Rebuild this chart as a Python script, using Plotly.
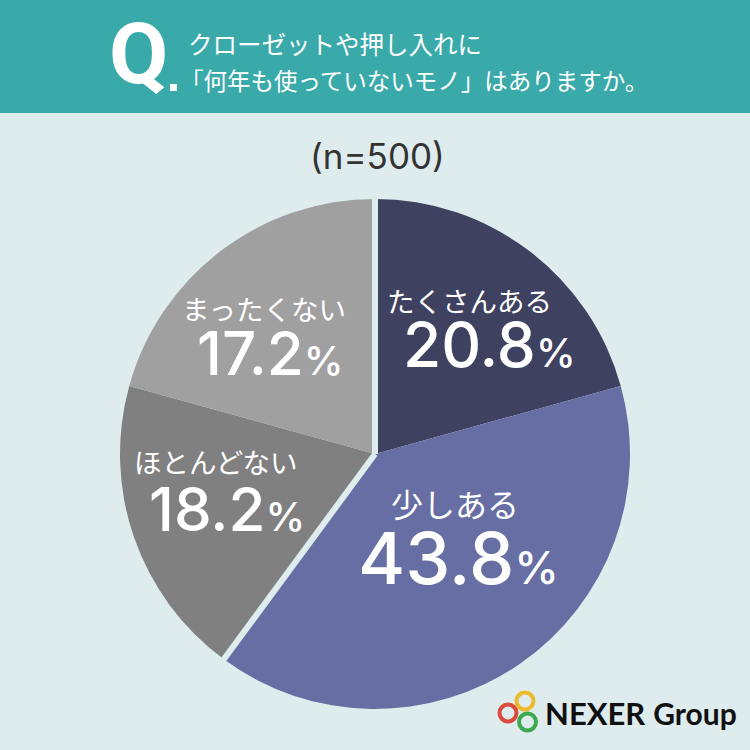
import math
import plotly.graph_objects as go

categories = ['たくさんある', '少しある', 'ほとんどない', 'まったくない']
# printed percentages
labels_pct = [20.8, 43.8, 18.2, 17.2]
# the wedges in the picture are not drawn to the printed numbers, these are read off the wedge edges
drawn_pct = [20.7, 39.4, 19.2, 20.7]
colors = ['#3F4161', '#666EA3', '#808080', '#A0A0A0']
question = ['クローゼットや押し入れに', '「何年も使っていないモノ」はありますか。']
sample = '(n=500)'
logo_text = '<b>NEXER</b> <b style="font-size:30px">Group</b>'

W = 750
H = 750
BG = '#DEECEE'
TEAL = '#3AA9AA'
cx, cy, radius = 375, 454, 255
jp = 'Noto Sans CJK JP'
num = 'Inter'


def px(x):
    return x / W


def py(y):
    return 1 - y / H


def text(x, y, s, size, color='white', family=jp, anchor='center', weight=None):
    font = dict(size=size, color=color, family=family)
    if weight:
        font['weight'] = weight
    return dict(x=px(x), y=py(y), xref='paper', yref='paper', text=s, showarrow=False,
                xanchor=anchor, yanchor='middle', font=font)


def pct(v, size):
    return '%.1f<span style="font-size:%dpx">%%</span>' % (v, size)


def gap_line(share):
    # pale gap between slices, at the clockwise share of the pie
    a = math.radians(share * 3.6)
    return dict(type='line', xref='paper', yref='paper',
                x0=px(cx), y0=py(cy),
                x1=px(cx + (radius + 4) * math.sin(a)), y1=py(cy - (radius + 4) * math.cos(a)),
                line=dict(color=BG, width=6))


def ring(x, y, r, color):
    return dict(type='circle', xref='paper', yref='paper',
                x0=px(x - r), x1=px(x + r), y0=py(y + r), y1=py(y - r),
                line=dict(color=color, width=4))


pie = go.Pie(
    labels=categories,
    values=drawn_pct,
    sort=False,
    direction='clockwise',
    rotation=0,
    textinfo='none',
    hole=0,
    marker=dict(colors=colors, line=dict(width=0)),
    domain=dict(x=[px(cx - radius), px(cx + radius)], y=[py(cy + radius), py(cy - radius)]),
    showlegend=False,
)

shapes = [
    dict(type='rect', xref='paper', yref='paper', x0=0, x1=1, y0=py(113), y1=1,
         fillcolor=TEAL, line=dict(width=0), layer='below'),
    dict(type='rect', xref='paper', yref='paper', x0=px(170), x1=px(177),
         y0=py(91), y1=py(84), fillcolor='white', line=dict(width=0)),
    gap_line(0),
    gap_line(drawn_pct[0] + drawn_pct[1]),
    ring(525, 701, 8.5, '#EDB92E'),
    ring(508, 713, 8.5, '#DC4A3D'),
    ring(527.5, 722, 8.5, '#3FA950'),
]

annotations = [
    text(138, 54, '<b>Q</b>', 86, family='Roboto'),
    text(186, 43, question[0], 24.5, anchor='left'),
    text(178, 80, question[1], 23.5, anchor='left'),
    text(377, 156, sample, 35, color='#333333', family=num),
    text(469, 300, categories[0], 27.5),
    text(489, 344, pct(labels_pct[0], 40), 62, family=num, weight=500),
    text(455, 503, categories[1], 32),
    text(458, 557, pct(labels_pct[1], 45), 72, family=num, weight=500),
    text(216, 461, categories[2], 27.5),
    text(227, 509, pct(labels_pct[2], 40), 60, family=num, weight=500),
    text(264, 308, categories[3], 27.5),
    text(270, 353, pct(labels_pct[3], 40), 60, family=num, weight=500),
    text(543, 713, logo_text, 31, color='#111111', family='Lato', anchor='left'),
]

fig = go.Figure(data=[pie])
for s in shapes:
    fig.add_shape(s)
fig.update_layout(
    width=W,
    height=H,
    margin=dict(l=0, r=0, t=0, b=0),
    paper_bgcolor=BG,
    plot_bgcolor=BG,
    annotations=annotations,
)
fig.write_html("out.html", config={'displayModeBar': False},
               post_script="document.body.style.margin = '0';")
